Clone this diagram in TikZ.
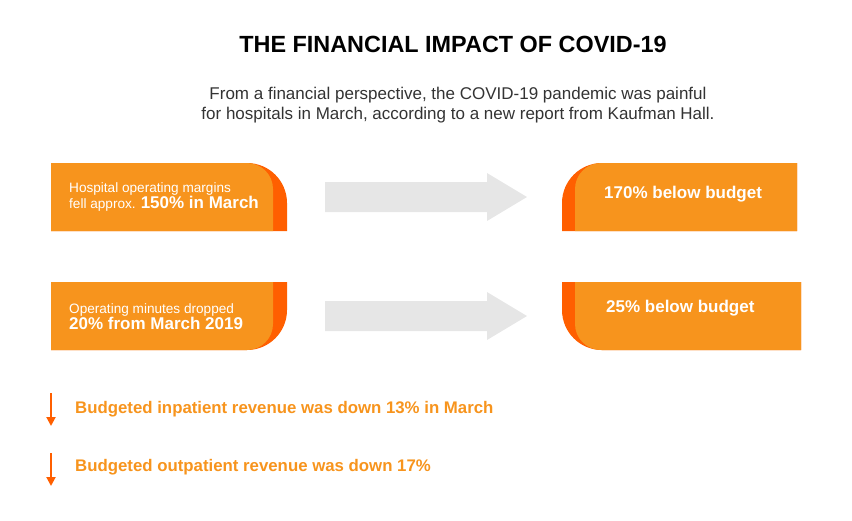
\documentclass[tikz,border=0pt]{standalone}
\usepackage{fontspec}
\setmainfont{Liberation Sans}
\usetikzlibrary{arrows.meta}
\definecolor{lo}{HTML}{F7941D}
\definecolor{dk}{HTML}{FF5F00}
\definecolor{gr}{HTML}{E6E6E6}
\begin{document}
\begin{tikzpicture}[x=1pt,y=-1pt,
  wt/.style={text=white,align=left,anchor=west,inner sep=0},
  big/.style={font=\fontsize{17}{19}\selectfont\bfseries},
  down/.style={draw=dk,line width=2pt,-{Triangle[width=9pt,length=9pt]}},
  ltxt/.style={text=lo,anchor=west,inner sep=0,font=\fontsize{16.8}{18}\selectfont\bfseries}]
\useasboundingbox (0,0) rectangle (852,520);
\node[font=\fontsize{23.4}{26}\selectfont\bfseries] (title) at (453,44) {THE FINANCIAL IMPACT OF COVID-19};
\node[text=black!80,align=center,font=\fontsize{17}{19.5}\selectfont] (sub) at (458,105) {From a financial perspective, the COVID-19 pandemic was painful\\for hospitals in March, according to a new report from Kaufman Hall.};
% left box 1
\fill[dk] (51,163) -- (247,163) arc[start angle=-90,end angle=0,radius=40] -- (287,231) -- (51,231) -- cycle;
\fill[lo] (51,163) -- (247,163) arc[start angle=-90,end angle=0,radius=26] -- (273,231) -- (51,231) -- cycle;
\node[wt] (l1) at (69,197) {\fontsize{13.6}{17}\selectfont Hospital operating margins\\\fontsize{13.6}{17}\selectfont fell approx. {\fontsize{17}{17}\selectfont\bfseries 150\% in March}};
% left box 2
\fill[dk] (51,282) -- (287,282) -- (287,310) arc[start angle=0,end angle=90,radius=40] -- (51,350) -- cycle;
\fill[lo] (51,282) -- (273,282) -- (273,324) arc[start angle=0,end angle=90,radius=26] -- (51,350) -- cycle;
\node[wt] (l2) at (69,317) {\fontsize{13.6}{17}\selectfont Operating minutes dropped\\\fontsize{17}{20}\selectfont\bfseries 20\% from March 2019};
% right box 1
\fill[dk] (797,163) -- (602,163) arc[start angle=-90,end angle=-180,radius=40] -- (562,231) -- (797,231) -- cycle;
\fill[lo] (797,163) -- (601,163) arc[start angle=-90,end angle=-180,radius=26] -- (575,231) -- (797,231) -- cycle;
\node[wt,big] (r1) at (604,194) {170\% below budget};
% right box 2
\fill[dk] (801,282) -- (562,282) -- (562,310) arc[start angle=180,end angle=90,radius=40] -- (801,350) -- cycle;
\fill[lo] (801,282) -- (575,282) -- (575,324) arc[start angle=180,end angle=90,radius=26] -- (801,350) -- cycle;
\node[wt,big] (r2) at (606,308) {25\% below budget};
% grey arrows
\fill[gr] (325,182) -- (487,182) -- (487,173) -- (527,197) -- (487,221) -- (487,212) -- (325,212) -- cycle;
\fill[gr] (325,301) -- (487,301) -- (487,292) -- (527,316) -- (487,340) -- (487,331) -- (325,331) -- cycle;
% down arrows
\coordinate (a1) at (51,393); \coordinate (b1) at (51,426);
\coordinate (a2) at (51,453); \coordinate (b2) at (51,486);
\draw[down] (a1) -- (b1);
\draw[down] (a2) -- (b2);
\node[ltxt] (t1) at (75,409) {Budgeted inpatient revenue was down 13\% in March};
\node[ltxt] (t2) at (75,467) {Budgeted outpatient revenue was down 17\%};
\end{tikzpicture}
\end{document}
